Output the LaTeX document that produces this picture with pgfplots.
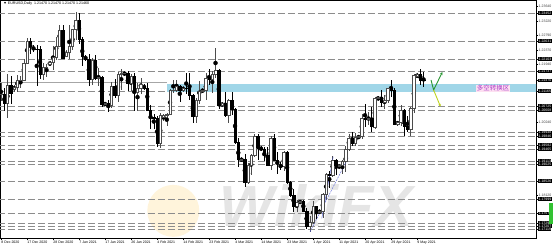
\documentclass[border=0pt]{standalone}
\usepackage{fontspec}
\setmainfont{Liberation Sans}
\newfontfamily\cjk{Noto Sans CJK SC}
\usepackage{pgfplots}
\usepackage{pgfplotstable}
\pgfplotsset{compat=1.18}
\usetikzlibrary{arrows.meta}

\definecolor{bandblue}{RGB}{160,214,232}
\definecolor{levgray}{RGB}{140,140,140}
\definecolor{arrgreen}{RGB}{40,150,50}
\definecolor{arryellow}{RGB}{190,210,30}
\definecolor{tlblue}{RGB}{80,90,210}
\definecolor{zonetxt}{RGB}{170,60,200}

% candle body mark: height (pt) given in \bh
\makeatletter
\pgfdeclareplotmark{cbody}{%
  \pgfmathfloatparsenumber{\bh}\pgfmathfloattofixed{\pgfmathresult}%
  \pgfutil@tempdima=\pgfmathresult pt\relax
  \ifdim\pgfutil@tempdima<0.5pt \pgfutil@tempdima=0.5pt\fi
  \pgfpathrectangle{\pgfqpoint{-1.15pt}{-0.5\pgfutil@tempdima}}{\pgfqpoint{2.3pt}{\pgfutil@tempdima}}%
  \pgfusepathqfillstroke}
\makeatother

% bullish candles: index, open, high, low, close
\pgfplotstableread{
i o h l c
0 1.2106 1.2141 1.2087 1.2107
2 1.2080 1.2166 1.2037 1.2133
4 1.2121 1.2135 1.2115 1.2128
5 1.2128 1.2163 1.2114 1.2148
6 1.2148 1.2160 1.2124 1.2149
7 1.2149 1.2211 1.2146 1.2199
8 1.2199 1.2273 1.2199 1.2264
13 1.2166 1.2198 1.2150 1.2186
14 1.2186 1.2197 1.2159 1.2187
15 1.2195 1.2204 1.2190 1.2200
16 1.2200 1.2250 1.2179 1.2215
17 1.2215 1.2276 1.2208 1.2248
18 1.2248 1.2310 1.2245 1.2295
20 1.2220 1.2236 1.2215 1.2230
21 1.2230 1.2310 1.2211 1.2248
22 1.2248 1.2298 1.2237 1.2297
23 1.2297 1.2349 1.2265 1.2325
28 1.2150 1.2213 1.2134 1.2207
30 1.2155 1.2184 1.2130 1.2156
32 1.2078 1.2085 1.2072 1.2080
34 1.2075 1.2144 1.2068 1.2132
36 1.2105 1.2172 1.2085 1.2166
37 1.2166 1.2182 1.2120 1.2170
38 1.2168 1.2175 1.2160 1.2170
40 1.2140 1.2166 1.2116 1.2160
42 1.2112 1.2140 1.2057 1.2126
43 1.2126 1.2156 1.2109 1.2136
49 1.1963 1.2051 1.1950 1.2045
50 1.2040 1.2048 1.2030 1.2045
51 1.2045 1.2052 1.2013 1.2050
52 1.2050 1.2121 1.2045 1.2118
53 1.2118 1.2150 1.2111 1.2120
54 1.2120 1.2150 1.2113 1.2131
56 1.2120 1.2130 1.2115 1.2125
60 1.2042 1.2095 1.2022 1.2090
61 1.2090 1.2145 1.2078 1.2117
62 1.2117 1.2125 1.2110 1.2120
63 1.2120 1.2168 1.2091 1.2154
65 1.2150 1.2176 1.2110 1.2165
66 1.2165 1.2243 1.2154 1.2177
68 1.2074 1.2084 1.2070 1.2080
70 1.2047 1.2094 1.2023 1.2090
74 1.1915 1.1922 1.1908 1.1918
76 1.1848 1.1905 1.1845 1.1900
77 1.1900 1.1931 1.1871 1.1928
78 1.1928 1.1990 1.1922 1.1984
83 1.1900 1.1985 1.1884 1.1977
87 1.1895 1.1942 1.1882 1.1936
91 1.1778 1.1797 1.1763 1.1792
92 1.1790 1.1797 1.1785 1.1793
95 1.1719 1.1749 1.1704 1.1731
96 1.1731 1.1794 1.1727 1.1778
98 1.1762 1.1770 1.1755 1.1765
99 1.1765 1.1818 1.1745 1.1813
100 1.1813 1.1877 1.1796 1.1874
102 1.1870 1.1927 1.1864 1.1914
104 1.1895 1.1902 1.1888 1.1898
105 1.1898 1.1914 1.1873 1.1911
106 1.1911 1.1956 1.1878 1.1947
107 1.1947 1.1990 1.1940 1.1978
109 1.1964 1.1994 1.1955 1.1982
110 1.1980 1.1988 1.1975 1.1985
111 1.1985 1.2049 1.1975 1.2036
113 1.2034 1.2055 1.2017 1.2036
115 1.2012 1.2100 1.2005 1.2095
116 1.2095 1.2102 1.2088 1.2098
118 1.2083 1.2105 1.2064 1.2089
119 1.2089 1.2125 1.2080 1.2124
122 1.2020 1.2030 1.2015 1.2025
123 1.2025 1.2075 1.2014 1.2060
126 1.2004 1.2071 1.1985 1.2067
127 1.2067 1.2167 1.2051 1.2162
128 1.2160 1.2168 1.2155 1.2165
}\bull

% bearish candles
\pgfplotstableread{
i o h l c
1 1.2107 1.2125 1.2059 1.2080
3 1.2133 1.2162 1.2079 1.2110
9 1.2264 1.2272 1.2226 1.2256
10 1.2245 1.2251 1.2232 1.2240
11 1.2240 1.2250 1.2130 1.2239
12 1.2239 1.2250 1.2153 1.2166
19 1.2295 1.2310 1.2213 1.2213
24 1.2325 1.2345 1.2253 1.2270
25 1.2270 1.2276 1.2191 1.2219
26 1.2215 1.2222 1.2205 1.2210
27 1.2210 1.2226 1.2131 1.2150
29 1.2207 1.2223 1.2149 1.2155
31 1.2156 1.2162 1.2071 1.2078
33 1.2080 1.2091 1.2054 1.2075
35 1.2132 1.2152 1.2096 1.2105
39 1.2170 1.2176 1.2118 1.2140
41 1.2160 1.2169 1.2059 1.2112
44 1.2130 1.2137 1.2120 1.2125
45 1.2125 1.2140 1.2060 1.2060
46 1.2060 1.2074 1.2006 1.2040
47 1.2040 1.2048 1.2006 1.2037
48 1.2037 1.2043 1.1952 1.1963
55 1.2131 1.2134 1.2083 1.2119
57 1.2125 1.2169 1.2108 1.2124
58 1.2124 1.2169 1.2091 1.2104
59 1.2104 1.2109 1.2023 1.2042
64 1.2154 1.2180 1.2134 1.2150
67 1.2177 1.2180 1.2064 1.2074
69 1.2080 1.2114 1.2039 1.2047
71 1.2090 1.2113 1.2045 1.2064
72 1.2064 1.2066 1.1962 1.1966
73 1.1966 1.1978 1.1893 1.1917
75 1.1918 1.1932 1.1835 1.1848
79 1.1984 1.1990 1.1914 1.1951
80 1.1948 1.1955 1.1940 1.1945
81 1.1945 1.1951 1.1912 1.1928
82 1.1928 1.1952 1.1896 1.1900
84 1.1977 1.1990 1.1913 1.1915
85 1.1915 1.1939 1.1873 1.1906
86 1.1900 1.1908 1.1885 1.1895
88 1.1936 1.1942 1.1843 1.1849
89 1.1849 1.1853 1.1807 1.1812
90 1.1812 1.1829 1.1762 1.1778
93 1.1793 1.1797 1.1761 1.1765
94 1.1765 1.1773 1.1712 1.1719
97 1.1778 1.1780 1.1742 1.1762
101 1.1874 1.1883 1.1833 1.1870
103 1.1914 1.1918 1.1870 1.1900
108 1.1978 1.1995 1.1955 1.1964
112 1.2036 1.2079 1.2012 1.2034
114 1.2036 1.2071 1.1995 1.2012
117 1.2098 1.2118 1.2070 1.2083
120 1.2124 1.2150 1.2100 1.2120
121 1.2120 1.2125 1.2016 1.2019
124 1.2060 1.2064 1.1986 1.2014
125 1.2014 1.2043 1.1997 1.2004
129 1.2165 1.2181 1.2135 1.2149
130 1.2149 1.2173 1.2128 1.2147
}\bear

\begin{document}
\begin{tikzpicture}
\begin{axis}[
  at={(0pt,9pt)}, anchor=south west,
  width=536pt, height=238pt, scale only axis,
  xmin=-0.31, xmax=164.6,
  ymin=1.16855, ymax=1.23833,
  axis line style={black, line width=0.5pt},
  tick align=outside, major tick length=2pt,
  tick style={black, line width=0.4pt},
  ytick pos=right, yticklabel pos=right,
  xtick pos=bottom,
  ytick={1.1812,1.2024,1.2194,1.2237,1.2279,1.2322,1.2364},
  yticklabel={\pgfmathprintnumber[fixed,fixed zerofill,precision=5,assume math mode=true]{\tick}},
  yticklabel style={font=\fontsize{3.5}{4}\selectfont, text=black!75, inner sep=0.5pt, xshift=0pt},
  extra y ticks={1.23452,1.22631,1.22103,1.21737,1.21470,1.21165,1.20725,1.20608,1.19948,1.19846,1.19582,1.19465,1.19113,1.19025,1.18526,1.17999,1.17574,1.17295,1.17207,1.17119},
  extra y tick style={yticklabel style={fill=black, text=white, inner sep=0.4pt}},
  xtick={0,8,...,128},
  xticklabels={8 Dec 2020,17 Dec 2020,28 Dec 2020,7 Jan 2021,17 Jan 2021,26 Jan 2021,4 Feb 2021,14 Feb 2021,23 Feb 2021,4 Mar 2021,14 Mar 2021,23 Mar 2021,1 Apr 2021,11 Apr 2021,20 Apr 2021,29 Apr 2021,9 May 2021},
  xticklabel style={font=\fontsize{3.5}{4}\selectfont, anchor=north west, inner sep=0.5pt, xshift=-0.3pt},
  scaled y ticks=false,
]
% watermark
\node[text=black!10, font=\fontsize{58}{58}\selectfont\bfseries\itshape] at (axis cs:97,1.1782) {WikiFX};
\fill[orange!60!yellow, opacity=0.14] (axis cs:53,1.1765) circle (26pt);

% support / resistance levels
\pgfplotsinvokeforeach{1.23452,1.22631,1.22103,1.21737,1.21165,1.20725,1.20608,1.19948,1.19846,1.19582,1.19465,1.19113,1.19025,1.18526,1.17999,1.17574,1.17295,1.17207,1.17119}{
  \addplot[levgray, line width=0.85pt, dash pattern=on 7pt off 3pt, forget plot] coordinates {(-1,#1) (170,#1)};
}
% zone band
\addplot[bandblue, line width=7.5pt, forget plot] coordinates {(51.1,1.21246) (170,1.21246)};
\addplot[black!35, line width=0.3pt, forget plot] coordinates {(-1,1.21413) (51.1,1.21413)};

% wicks
\addplot[only marks, mark=none, forget plot, error bars/.cd, y dir=both, y explicit, error mark=none,
  error bar style={color=black!70, solid, line width=0.45pt}]
  table[x=i, y expr=(\thisrow{h}+\thisrow{l})/2, y error expr=(\thisrow{h}-\thisrow{l})/2] {\bull};
\addplot[only marks, mark=none, forget plot, error bars/.cd, y dir=both, y explicit, error mark=none,
  error bar style={color=black, solid, line width=0.45pt}]
  table[x=i, y expr=(\thisrow{h}+\thisrow{l})/2, y error expr=(\thisrow{h}-\thisrow{l})/2] {\bear};
% bodies
\addplot[only marks, mark=cbody, forget plot, mark options={draw=black!70, fill=white, line width=0.35pt, solid},
  visualization depends on={3410.7*abs(\thisrow{c}-\thisrow{o}) \as \bh}]
  table[x=i, y expr=(\thisrow{o}+\thisrow{c})/2] {\bull};
\addplot[only marks, mark=cbody, forget plot, mark options={draw=black, fill=black, line width=0.35pt, solid},
  visualization depends on={3410.7*abs(\thisrow{c}-\thisrow{o}) \as \bh}]
  table[x=i, y expr=(\thisrow{o}+\thisrow{c})/2] {\bear};

% trend lines near the low
\addplot[tlblue, line width=0.4pt, dash pattern=on 2pt off 1pt, forget plot] coordinates {(95.1,1.1704) (106.9,1.19221)};
\addplot[tlblue, line width=0.4pt, forget plot] coordinates {(98.7,1.17433) (102.2,1.19239)};

% scenario arrows
\addplot[arrgreen, line width=0.9pt, -{Stealth[length=3pt,width=2.8pt]}, forget plot] coordinates {(132.3,1.21488) (133.1,1.21194) (135.8,1.21722)};
\addplot[arryellow, line width=0.9pt, -{Stealth[length=2.5pt,width=2.5pt]}, forget plot] coordinates {(133.1,1.21194) (135.2,1.20711)};

% zone label
\node[text=zonetxt, fill=magenta!12, inner sep=0.6pt, font=\cjk\fontsize{6.5}{7}\selectfont] at (axis cs:151.4,1.21238) {多空转换区};

% title
\node[anchor=north west, inner sep=0pt, font=\fontsize{3.6}{4}\selectfont] at (rel axis cs:0.006,0.994) {▼ EURUSD,Daily\ \ 1.21470 1.21470 1.21470 1.21460};
\end{axis}
\fill[green!70!black!80] (549pt,23pt) rectangle (553pt,44pt);
\pgfresetboundingbox
\path[use as bounding box] (0,0) rectangle (553pt,247pt);
\end{tikzpicture}
\end{document}
